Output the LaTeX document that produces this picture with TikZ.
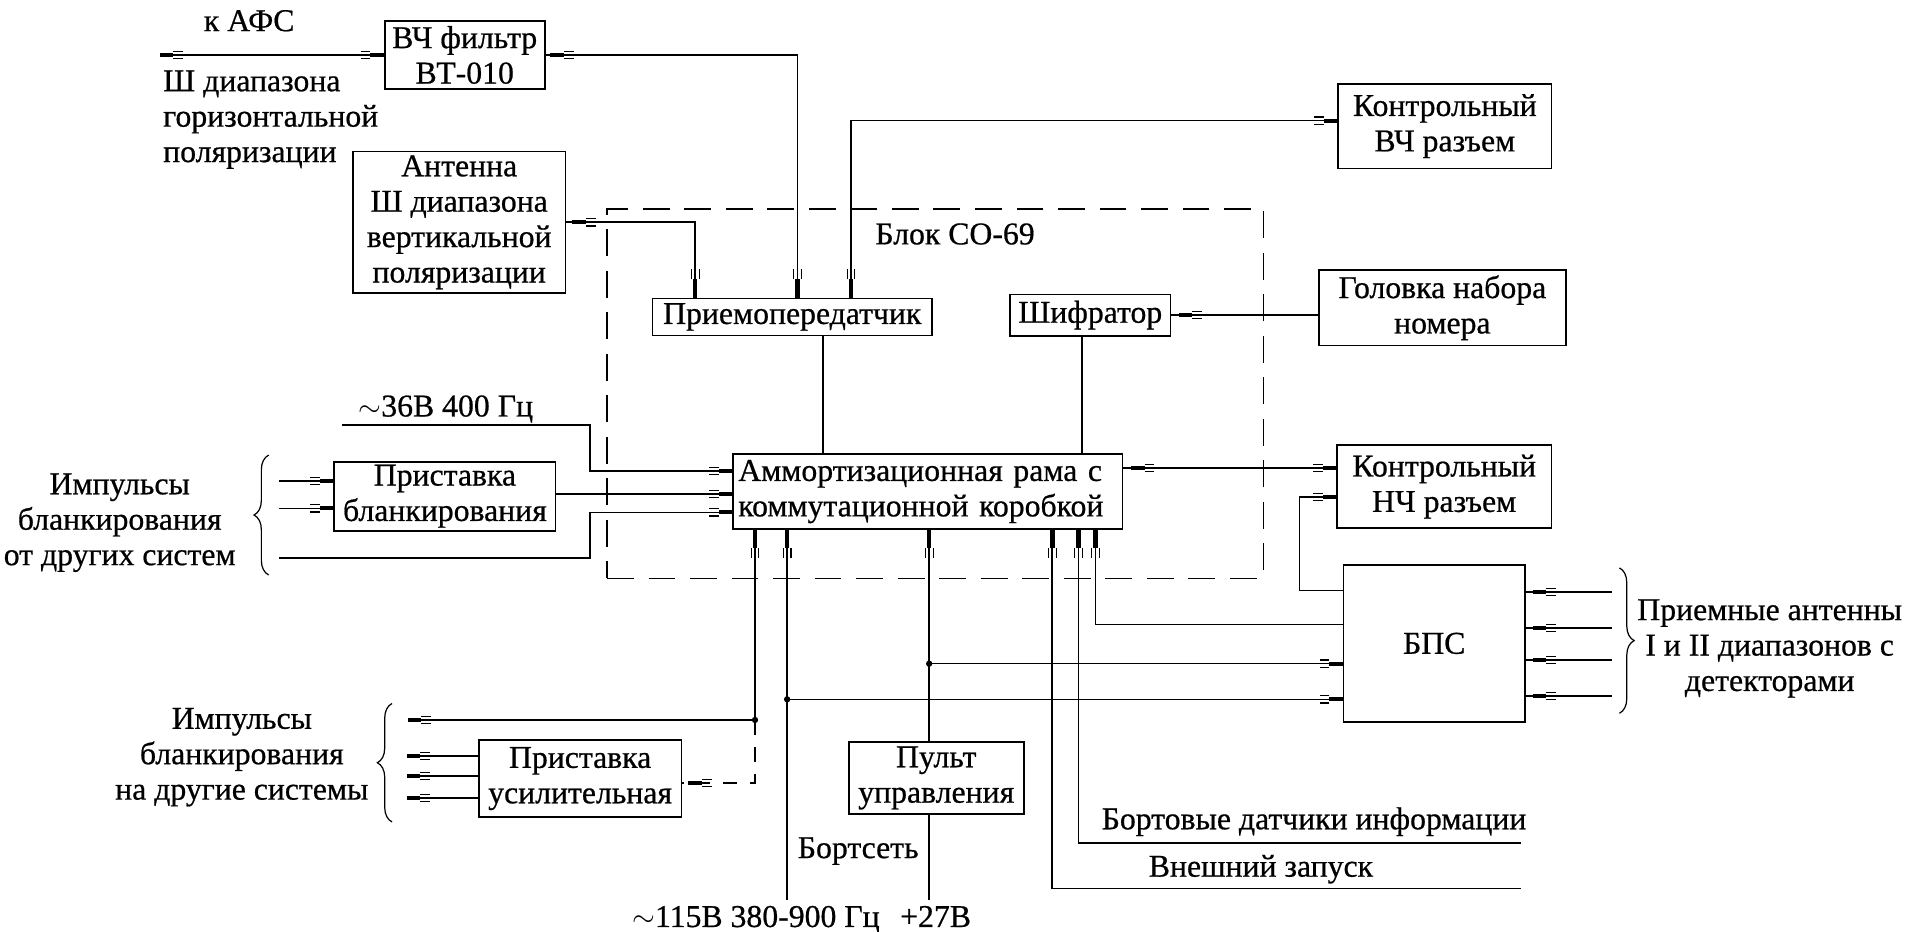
\documentclass[tikz,border=0pt]{standalone}
\usepackage{fontspec}
\setmainfont{Liberation Serif}
\newfontfamily\rusfont{Liberation Serif}[FakeBold=0.6]
\usetikzlibrary{decorations.pathreplacing}
\newcommand\dfont{\rusfont\fontsize{13pt}{14.5pt}\selectfont}
\begin{document}
\begin{tikzpicture}[x=0.5pt,y=-0.5pt, line width=0.65pt,
  box/.style={draw, line width=0.65pt, inner sep=0pt, align=center, font=\dfont},
  lbl/.style={inner sep=0pt, font=\dfont},
  conn/.pic={\fill (0,-0.85pt) rectangle (5.5pt,0.85pt);
             \draw[line width=0.45pt] (5.5pt,-1.5pt) -- (9.5pt,-1.5pt) (5.5pt,1.5pt) -- (9.5pt,1.5pt);},
  vconn/.pic={\fill (0,-0.95pt) rectangle (7.5pt,0.95pt);
             \draw[line width=0.45pt] (7.5pt,-1.6pt) -- (11.5pt,-1.6pt) (7.5pt,1.6pt) -- (11.5pt,1.6pt);},
  jdot/.style={circle, fill, inner sep=0pt, minimum size=2.6pt},
  brc/.style={decorate, decoration={brace, amplitude=6pt}, line width=0.5pt},
  blockline/.style={draw, dash pattern=on 11pt off 6pt, line width=0.65pt}
]
\fill[white] (0,0) rectangle (1568,762.3);
\useasboundingbox (0,0) rectangle (1568,762.3);

% boxes
\node[box, minimum width=65.5pt, minimum height=28pt] (vch) at (380.5,45) {ВЧ фильтр\\ВТ-010};
\node[box, minimum width=87pt, minimum height=58pt] (ant) at (376,182) {Антенна\\Ш диапазона\\вертикальной\\поляризации};
\node[box, minimum width=87.5pt, minimum height=34.5pt] (kvch) at (1183,103.3) {Контрольный\\ВЧ разъем};
\node[box, minimum width=114.6pt, minimum height=15.25pt] (pp) at (648.7,259.5) {Приемопередатчик};
\node[box, minimum width=65.75pt, minimum height=17pt] (shif) at (892.7,258) {Шифратор};
\node[box, minimum width=101pt, minimum height=31pt] (gol) at (1181,252) {Головка набора\\номера};
\node[box, text width=155pt, inner xsep=2.25pt, minimum height=30.8pt, align=left] (am) at (759.5,402.5) {Аммортизационная рама с\\коммутационной коробкой};
\node[box, minimum width=88pt, minimum height=34pt] (knch) at (1182.5,398.5) {Контрольный\\НЧ разъем};
\node[box, minimum width=74.15pt, minimum height=64.2pt] (bps) at (1174.3,526.8) {БПС};
\node[box, minimum width=90.7pt, minimum height=28.25pt] (prbl) at (364.3,406.3) {Приставка\\бланкирования};
\node[box, minimum width=83pt, minimum height=31.5pt] (prus) at (475,637.5) {Приставка\\усилительная};
\node[box, minimum width=71.65pt, minimum height=29.6pt] (pult) at (766.6,637) {Пульт\\управления};
\node[blockline, minimum width=268.7pt, minimum height=151.25pt] (blk) at (765.7,322.25) {};

% labels
\node[lbl] (tafs) at (204,17) {к АФС};
\node[lbl, align=left, anchor=north west] (thor) at (133,57) {Ш диапазона\\горизонтальной\\поляризации};
\node[lbl] (tblk) at (782,191.6) {Блок СО-69};
\node[lbl, anchor=base] (t36) at (365,341) {$\sim$36В 400 Гц};
\node[lbl, align=center] (timp1) at (98,428) {Импульсы\\бланкирования\\от других систем};
\node[lbl, align=center] (timp2) at (198,620) {Импульсы\\бланкирования\\на другие системы};
\node[lbl, align=center] (tant) at (1449,531) {Приемные антенны\\I и II диапазонов с\\детекторами};
\node[lbl, anchor=base west] (tdat) at (901.4,679) {Бортовые датчики информации};
\node[lbl, anchor=base west] (tvz) at (940,717.8) {Внешний запуск};
\node[lbl, anchor=base west] (tbs) at (652.6,702.6) {Бортсеть};
\node[lbl, anchor=base west] (t115) at (517,759) {$\sim$115В 380-900 Гц};
\node[lbl, anchor=base west] (t27) at (736.4,759) {+27В};

% braces
\draw[brc] (220,470.8) -- (220,372.6);
\draw[brc] (321,673) -- (321,576);
\draw[brc] (1326,465) -- (1326,584);

% coordinates
\coordinate (afs) at (131,45);
\coordinate (t1) at (569.2,0 |- pp.north);
\coordinate (t2) at (652.9,0 |- pp.north);
\coordinate (t3) at (696.8,0 |- pp.north);
\coordinate (k1) at ([yshift=2.25pt]kvch.west);
\coordinate (v36) at (280,348);
\coordinate (i1) at (228.3,393.6);
\coordinate (i2) at (228.3,416.2);
\coordinate (i3) at (228.3,457);
\coordinate (a1) at (am.west |- 0,385.7);
\coordinate (a2) at (am.west |- 0,404.6);
\coordinate (a3) at (am.west |- 0,419.5);
\coordinate (r1) at (am.east |- 0,383);
\coordinate (r1k) at (knch.west |- 0,383);
\coordinate (r2) at (knch.west |- 0,406.7);
\coordinate (b1) at (618.2,0 |- am.south);
\coordinate (b2) at (644.5,0 |- am.south);
\coordinate (b3) at (760.8,0 |- am.south);
\coordinate (b4) at (861.6,0 |- am.south);
\coordinate (b5) at (883.2,0 |- am.south);
\coordinate (b6) at (897.1,0 |- am.south);
\coordinate (e2) at (644.5,737);
\coordinate (e3) at (760.8,737);
\coordinate (e4) at (1245.6,727.4);
\coordinate (e5) at (1245.6,690);
\coordinate (d1) at (618.2,589.5);
\coordinate (d2) at (644.5,572.6);
\coordinate (d3) at (760.8,543.4);
\coordinate (o1) at (334,589.5);
\coordinate (pe) at (prus.east |- 0,641);
\coordinate (u1) at (333,619);
\coordinate (u2) at (333,635.5);
\coordinate (u3) at (333,653.5);
\coordinate (q1) at (1320,484.5);
\coordinate (q2) at (1320,514);
\coordinate (q3) at (1320,540.5);
\coordinate (q4) at (1320,570);
\coordinate (s1) at (bps.east |- q1);
\coordinate (s2) at (bps.east |- q2);
\coordinate (s3) at (bps.east |- q3);
\coordinate (s4) at (bps.east |- q4);

% connectors (lines)
\draw (afs) -- (afs -| vch.west);
\draw (vch.east) -| (t2);
\draw (ant.east) -| (t1);
\draw (k1) -| (t3);
\draw (674.1,0 |- pp.south) -- (674.1,0 |- am.north);
\draw (886.1,0 |- shif.south) -- (886.1,0 |- am.north);
\draw (shif.east) -- (shif.east -| gol.west);
\draw (v36) -| (483,385.7) -- (a1);
\draw (i1) -- (i1 -| prbl.west);
\draw (i2) -- (i2 -| prbl.west);
\draw (prbl.east |- a2) -- (a2);
\draw (i3) -| (483,419.5) -- (a3);
\draw (r1) -- (r1k);
\draw (r2) -- (1064,406.7) |- (bps.west |- 0,483.6);
\draw (b6) |- (bps.west |- 0,511.2);
\draw (b5) |- (e5);
\draw (b4) |- (e4);
\draw (b3) -- (b3 |- pult.north);
\draw (b3 |- pult.south) -- (e3);
\draw (d3) -- (bps.west |- d3);
\draw (b2) -- (e2);
\draw (d2) -- (bps.west |- d2);
\draw (b1) -- (d1) -- (o1);
\draw[dash pattern=on 6pt off 5pt] (d1) |- (pe);
\draw (u1) -- (u1 -| prus.west);
\draw (u2) -- (u2 -| prus.west);
\draw (u3) -- (u3 -| prus.west);
\draw (s1) -- (q1);
\draw (s2) -- (q2);
\draw (s3) -- (q3);
\draw (s4) -- (q4);

\node[jdot] at (d1) {};
\node[jdot] at (d2) {};
\node[jdot] at (d3) {};

% connector symbols
\pic at (afs) {conn};
\pic[rotate=180] at (afs -| vch.west) {conn};
\pic at ([xshift=2pt]vch.east) {conn};
\pic at ([xshift=2.5pt]ant.east) {conn};
\pic[rotate=180] at (k1) {conn};
\pic[rotate=90] at (t1) {vconn};
\pic[rotate=90] at (t2) {vconn};
\pic[rotate=90] at (t3) {vconn};
\pic at ([xshift=3pt]shif.east) {conn};
\pic[rotate=180] at (a1) {conn};
\pic[rotate=180] at (a2) {conn};
\pic[rotate=180] at (a3) {conn};
\pic[rotate=180] at (i1 -| prbl.west) {conn};
\pic[rotate=180] at (i2 -| prbl.west) {conn};
\pic at ([xshift=3.3pt]r1) {conn};
\pic[rotate=180] at (r1k) {conn};
\pic[rotate=180] at (r2) {conn};
\pic[rotate=270] at (b1) {vconn};
\pic[rotate=270] at (b2) {vconn};
\pic[rotate=270] at (b3) {vconn};
\pic[rotate=270] at (b4) {vconn};
\pic[rotate=270] at (b5) {vconn};
\pic[rotate=270] at (b6) {vconn};
\pic[rotate=180] at (bps.west |- d3) {conn};
\pic[rotate=180] at (bps.west |- d2) {conn};
\pic at (o1) {conn};
\pic at ([xshift=2.5pt]pe) {conn};
\pic at (u1) {conn};
\pic at (u2) {conn};
\pic at (u3) {conn};
\pic at ([xshift=3pt]s1) {conn};
\pic at ([xshift=3pt]s2) {conn};
\pic at ([xshift=3pt]s3) {conn};
\pic at ([xshift=3pt]s4) {conn};
\end{tikzpicture}
\end{document}
